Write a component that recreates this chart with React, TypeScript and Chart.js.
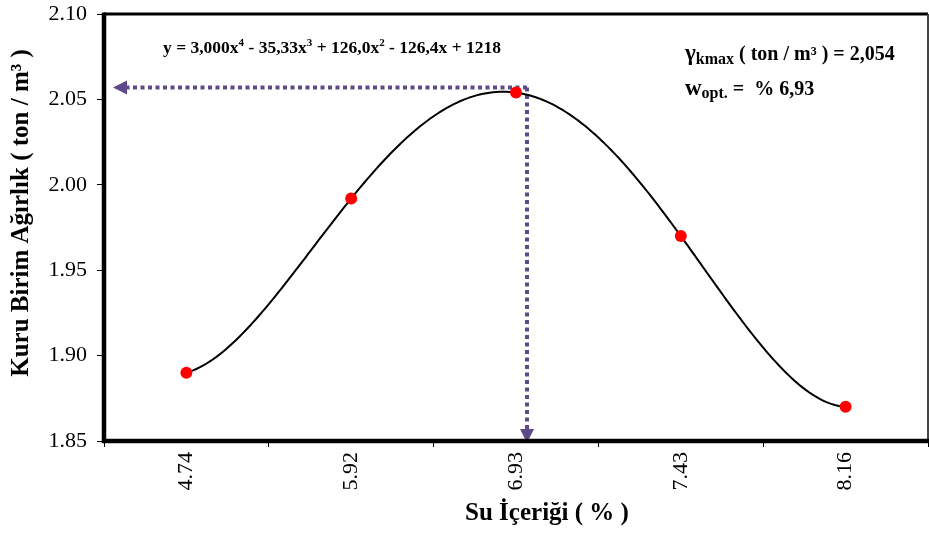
import { useEffect, useRef } from 'react';
import { Chart, registerables } from 'chart.js';

Chart.register(...registerables);

// Compaction test: water content (%) vs. dry unit weight (ton/m³)
const categories = ['4.74', '5.92', '6.93', '7.43', '8.16'];
const dryUnitWeight = [1.89, 1.992, 2.054, 1.97, 1.87];
const yMin = 1.85;
const yMax = 2.1;
const yStep = 0.05;
const optIndex = 2;
const optValue = 2.054;

const SERIF = '"Liberation Serif", "Times New Roman", serif';
const ARROW_COLOR = '#5E4A88';

// 4th-order polynomial trendline through the five points (Lagrange form)
function trend(t: number, ys: number[]): number {
  let sum = 0;
  for (let i = 0; i < ys.length; i++) {
    let term = ys[i];
    for (let j = 0; j < ys.length; j++) {
      if (j !== i) term *= (t - j) / (i - j);
    }
    sum += term;
  }
  return sum;
}

type Run = { text: string; size: number; dy?: number };

function drawRuns(ctx: CanvasRenderingContext2D, x: number, y: number, runs: Run[]) {
  let cx = x;
  for (const r of runs) {
    ctx.font = `bold ${r.size}px ${SERIF}`;
    ctx.fillText(r.text, cx, y + (r.dy || 0));
    cx += ctx.measureText(r.text).width;
  }
}

function arrowHead(ctx: CanvasRenderingContext2D, tipX: number, tipY: number, dir: 'left' | 'down') {
  const len = 14;
  const half = 7;
  ctx.beginPath();
  if (dir === 'left') {
    ctx.moveTo(tipX, tipY);
    ctx.lineTo(tipX + len, tipY - half);
    ctx.lineTo(tipX + len, tipY + half);
  } else {
    ctx.moveTo(tipX, tipY);
    ctx.lineTo(tipX - half, tipY - len);
    ctx.lineTo(tipX + half, tipY - len);
  }
  ctx.closePath();
  ctx.fill();
}

const decorations = {
  id: 'decorations',
  beforeDatasetsDraw(chart: any) {
    const { ctx, chartArea, scales } = chart;
    const xs = scales.x;
    const ys = scales.y;

    // dotted guide arrows to the optimum point
    const gx = xs.getPixelForValue(optIndex) + 11;
    const gy = ys.getPixelForValue(optValue) - 5;
    ctx.save();
    ctx.strokeStyle = ARROW_COLOR;
    ctx.fillStyle = ARROW_COLOR;
    ctx.lineWidth = 4;
    ctx.lineCap = 'butt';
    ctx.setLineDash([4, 3.5]);
    ctx.beginPath();
    ctx.moveTo(gx, gy);
    ctx.lineTo(chartArea.left + 22, gy);
    ctx.stroke();
    ctx.beginPath();
    ctx.moveTo(gx, gy);
    ctx.lineTo(gx, chartArea.bottom - 12);
    ctx.stroke();
    ctx.setLineDash([]);
    arrowHead(ctx, chartArea.left + 9, gy, 'left');
    arrowHead(ctx, gx, chartArea.bottom + 2, 'down');
    ctx.restore();

    // trendline
    ctx.save();
    ctx.strokeStyle = '#000';
    ctx.lineWidth = 2;
    ctx.beginPath();
    const n = dryUnitWeight.length - 1;
    const x0 = xs.getPixelForValue(0);
    const dx = xs.getPixelForValue(1) - x0;
    for (let k = 0; k <= n * 50; k++) {
      const t = k / 50;
      const px = x0 + dx * t;
      const py = ys.getPixelForValue(trend(t, dryUnitWeight));
      if (k === 0) ctx.moveTo(px, py);
      else ctx.lineTo(px, py);
    }
    ctx.stroke();
    ctx.restore();
  },
  afterDraw(chart: any) {
    const { ctx, chartArea } = chart;
    const { left, right, top, bottom } = chartArea;
    ctx.save();
    // plot frame
    ctx.strokeStyle = '#000';
    ctx.lineWidth = 3;
    ctx.beginPath();
    ctx.moveTo(left, top);
    ctx.lineTo(right, top);
    ctx.stroke();
    ctx.strokeStyle = '#444';
    ctx.lineWidth = 2;
    ctx.beginPath();
    ctx.moveTo(right, top);
    ctx.lineTo(right, bottom);
    ctx.stroke();
    ctx.strokeStyle = '#000';
    ctx.lineWidth = 4.5;
    ctx.beginPath();
    ctx.moveTo(left, top - 1.5);
    ctx.lineTo(left, bottom);
    ctx.lineTo(right + 1, bottom);
    ctx.stroke();

    ctx.fillStyle = '#000';
    ctx.textBaseline = 'alphabetic';
    ctx.textAlign = 'left';

    // trendline equation
    drawRuns(ctx, 163, 53, [
      { text: 'y = 3,000x', size: 17.5 },
      { text: '4', size: 11, dy: -7 },
      { text: ' - 35,33x', size: 17.5 },
      { text: '3', size: 11, dy: -7 },
      { text: ' + 126,0x', size: 17.5 },
      { text: '2', size: 11, dy: -7 },
      { text: ' - 126,4x + 1218', size: 17.5 },
    ]);

    // optimum values
    drawRuns(ctx, 685, 60, [
      { text: 'γ', size: 23 },
      { text: 'kmax', size: 16, dy: 4 },
      { text: ' ( ton / m³ ) = 2,054', size: 20 },
    ]);
    drawRuns(ctx, 685, 95, [
      { text: 'w', size: 23 },
      { text: 'opt.', size: 16, dy: 3 },
      { text: ' =  % 6,93', size: 20 },
    ]);

    // axis titles
    ctx.font = `bold 25px ${SERIF}`;
    ctx.textAlign = 'center';
    ctx.fillText('Su İçeriği ( % )', 547, 520);
    ctx.translate(28, 213);
    ctx.rotate(-Math.PI / 2);
    ctx.fillText('Kuru Birim Ağırlık ( ton / m³ )', 0, 0);
    ctx.restore();
  },
};

export default function App() {
  const canvasRef = useRef<HTMLCanvasElement | null>(null);

  useEffect(() => {
    document.body.style.margin = '0';
    const canvas = canvasRef.current;
    if (!canvas) return;
    const chart = new Chart(canvas, {
      type: 'line',
      data: {
        labels: categories,
        datasets: [
          {
            data: dryUnitWeight,
            showLine: false,
            pointRadius: 6,
            pointHoverRadius: 6,
            pointBackgroundColor: '#FF0000',
            pointBorderColor: '#FF0000',
            pointBorderWidth: 0,
          },
        ],
      },
      options: {
        responsive: false,
        animation: false,
        devicePixelRatio: 1,
        layout: { autoPadding: false, padding: { top: 14, right: 1, left: 0, bottom: 0 } },
        plugins: {
          legend: { display: false },
          tooltip: { enabled: false },
        },
        scales: {
          x: {
            type: 'category',
            offset: true,
            border: { display: false },
            grid: {
              offset: true,
              drawOnChartArea: false,
              drawTicks: true,
              tickLength: 6,
              color: '#000',
              lineWidth: 1,
            },
            ticks: {
              minRotation: 90,
              maxRotation: 90,
              padding: 5,
              color: '#000',
              font: { family: SERIF, size: 22 },
            },
            afterFit(scale: any) {
              scale.height = 94;
              scale.paddingLeft = 0;
              scale.paddingRight = 0;
            },
          },
          y: {
            min: yMin,
            max: yMax,
            border: { display: false },
            grid: {
              drawOnChartArea: false,
              drawTicks: true,
              tickLength: 7,
              color: '#000',
              lineWidth: 1,
            },
            ticks: {
              stepSize: yStep,
              padding: 10,
              color: '#000',
              font: { family: SERIF, size: 22 },
              callback: (v: any) => Number(v).toFixed(2),
            },
            afterFit(scale: any) {
              scale.width = 104;
              scale.paddingTop = 0;
              scale.paddingBottom = 0;
            },
          },
        },
      },
      plugins: [decorations],
    });
    return () => chart.destroy();
  }, []);

  return (
    <div style={{ position: 'absolute', left: 0, top: 0, width: 929, height: 535, background: '#fff' }}>
      <canvas ref={canvasRef} width={929} height={535} />
    </div>
  );
}
